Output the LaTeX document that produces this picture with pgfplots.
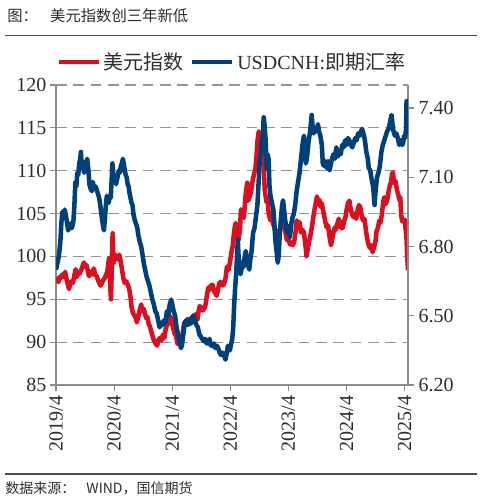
\documentclass[border=0pt]{standalone}
\usepackage{fontspec}
\setmainfont{Liberation Serif}
\newfontfamily\cjk{Noto Sans CJK SC}
\usepackage{pgfplots}
\pgfplotsset{compat=1.18}
\definecolor{dxyred}{RGB}{218,16,32}
\definecolor{cnhblue}{RGB}{0,64,122}
\definecolor{axgray}{RGB}{140,140,140}
\definecolor{gridgray}{RGB}{150,150,150}
\definecolor{labelgray}{RGB}{45,45,45}
\begin{document}
\begin{tikzpicture}
\useasboundingbox (0pt,0pt) rectangle (361.5pt,-376.5pt);
\node[anchor=west, inner sep=0pt, text=labelgray] at (5.25pt,-11.5pt) {\cjk\fontsize{11.5}{13}\selectfont 图：\hspace{0.8em}美元指数创三年新低};
\draw[line width=0.9pt, black!70] (3.75pt,-26.6pt) -- (357.75pt,-26.6pt);
\draw[line width=0.9pt, black!70] (3.75pt,-355.5pt) -- (357.75pt,-355.5pt);
\node[anchor=west, inner sep=0pt, text=labelgray] at (3.75pt,-366.5pt) {\cjk\fontsize{10.5}{12}\selectfont 数据来源：\hspace{0.8em}WIND，国信期货};

\begin{axis}[
  at={(42pt,-288.75pt)}, anchor=south west,
  scale only axis, width=264pt, height=225pt,
  xmin=0, xmax=72.7, ymin=85, ymax=120,
  axis x line*=bottom, axis y line*=left,
  axis line style={axgray, line width=0.9pt},
  xtick={0,12,24,36,48,60,72},
  xticklabels={2019/4,2020/4,2021/4,2022/4,2023/4,2024/4,2025/4},
  xticklabel style={rotate=90, anchor=east, font=\fontsize{15}{15}\selectfont, text=labelgray},
  ytick={85,90,...,120},
  yticklabel style={font=\fontsize{15}{15}\selectfont, text=labelgray, inner sep=2.5pt},
  tick align=outside, major tick length=4.5pt,
  tick style={axgray, line width=0.9pt},
  ymajorgrids, grid style={gridgray, line width=0.9pt, dash pattern=on 8pt off 5pt},
  /pgf/number format/assume math mode=true,
]
\addplot[dxyred, line width=3.4pt, line join=round] coordinates {
(0,96.9)(0.25,97.4)(0.5,97.0)(0.75,97.6)(1.0,97.5)(1.3,97.9)(1.6,97.6)(1.9,98.2)(2.2,97.3)(2.5,96.6)(2.7,96.2)(2.9,96.8)(3.2,97.1)(3.5,96.9)(3.8,97.8)(4.06,98.5)(4.3,97.6)(4.6,98.2)(4.9,98.0)(5.2,98.4)(5.5,98.9)(5.77,99.3)(6.0,98.8)(6.3,99.0)(6.5,98.5)(6.8,97.7)(7.1,97.9)(7.4,98.3)(7.6,97.9)(7.8,98.6)(8.1,97.8)(8.4,97.7)(8.7,97.2)(9.0,96.8)(9.2,96.6)(9.5,96.9)(9.8,97.3)(10.0,97.4)(10.3,97.8)(10.6,98.2)(10.8,99.1)(10.95,99.8)(11.1,98.1)(11.25,96.0)(11.35,95.0)(11.5,98.0)(11.6,101.5)(11.7,102.7)(11.85,99.2)(12.0,99.5)(12.3,100.2)(12.6,99.8)(12.9,99.6)(13.1,100.2)(13.3,99.6)(13.6,98.6)(13.9,97.5)(14.2,96.9)(14.5,97.1)(14.8,96.7)(15.1,96.3)(15.4,95.2)(15.6,94.1)(15.9,93.4)(16.2,93.1)(16.5,92.8)(16.7,92.3)(17.0,93.0)(17.3,93.8)(17.6,94.4)(17.8,93.6)(18.1,93.9)(18.4,93.3)(18.6,92.8)(18.9,92.9)(19.1,92.2)(19.4,91.8)(19.7,91.2)(20.0,90.6)(20.3,90.1)(20.6,89.8)(20.9,89.6)(21.2,90.3)(21.5,90.5)(21.8,90.2)(22.1,90.9)(22.4,90.5)(22.7,91.7)(23.0,92.0)(23.3,92.7)(23.6,93.0)(23.9,92.4)(24.2,91.6)(24.5,91.0)(24.8,90.7)(25.1,89.8)(25.4,90.0)(25.7,89.9)(26.0,90.4)(26.2,91.2)(26.5,92.3)(26.8,92.0)(27.1,92.7)(27.4,92.4)(27.7,92.1)(28.0,92.4)(28.3,93.1)(28.6,92.8)(28.9,93.3)(29.2,92.6)(29.5,93.8)(29.7,94.2)(30.0,94.0)(30.3,93.7)(30.6,93.9)(30.9,94.4)(31.2,95.6)(31.5,96.4)(31.7,96.1)(32.0,96.6)(32.3,96.7)(32.6,96.0)(32.9,95.7)(33.2,95.4)(33.5,96.3)(33.8,97.0)(34.1,97.0)(34.4,96.6)(34.7,96.8)(35.0,97.4)(35.3,98.8)(35.6,98.4)(35.9,99.2)(36.2,100.4)(36.5,101.2)(36.8,103.0)(37.1,103.9)(37.4,102.8)(37.7,101.9)(38.0,103.2)(38.2,105.5)(38.5,104.8)(38.8,104.5)(39.1,106.8)(39.3,107.8)(39.5,108.6)(39.7,106.5)(40.0,107.0)(40.3,107.6)(40.6,108.8)(40.9,109.6)(41.2,110.3)(41.4,111.6)(41.6,113.4)(41.8,114.3)(41.9,114.6)(42.1,112.5)(42.3,112.2)(42.5,112.9)(42.7,111.6)(42.9,110.6)(43.1,107.8)(43.3,107.0)(43.5,106.3)(43.7,106.8)(43.9,105.2)(44.1,104.6)(44.3,104.2)(44.5,105.0)(44.8,103.9)(45.1,103.4)(45.4,102.6)(45.6,103.0)(45.8,102.1)(46.0,101.6)(46.2,102.7)(46.5,104.1)(46.7,104.8)(47.0,104.6)(47.2,103.6)(47.5,102.4)(47.7,101.9)(48.0,102.2)(48.3,101.4)(48.6,101.6)(48.9,101.3)(49.2,101.7)(49.5,103.0)(49.7,104.2)(50.0,103.6)(50.3,104.0)(50.6,102.8)(50.9,103.1)(51.2,102.8)(51.5,101.4)(51.75,100.0)(52.0,100.9)(52.3,101.8)(52.6,102.6)(52.9,103.6)(53.2,104.8)(53.4,105.5)(53.7,106.4)(53.9,107.0)(54.1,106.4)(54.4,106.6)(54.6,105.8)(54.9,106.2)(55.1,105.5)(55.3,105.0)(55.6,104.1)(55.9,103.4)(56.2,103.6)(56.5,102.3)(56.8,101.3)(57.0,101.9)(57.3,102.8)(57.6,103.4)(57.8,103.1)(58.1,103.8)(58.4,104.4)(58.6,104.0)(58.9,103.3)(59.2,103.3)(59.5,104.1)(59.8,104.6)(60.0,105.4)(60.3,106.2)(60.6,106.5)(60.8,105.7)(61.1,105.0)(61.4,104.6)(61.7,105.0)(62.0,104.4)(62.3,105.4)(62.6,106.0)(62.9,105.6)(63.1,104.9)(63.4,104.2)(63.7,104.4)(64.0,103.1)(64.2,102.3)(64.5,101.5)(64.8,101.0)(65.1,101.3)(65.4,100.5)(65.7,101.1)(66.0,101.8)(66.2,102.9)(66.5,103.4)(66.8,104.2)(67.0,103.9)(67.3,104.9)(67.6,106.4)(67.8,106.9)(68.1,106.1)(68.4,106.6)(68.7,107.6)(69.0,108.4)(69.2,108.6)(69.4,109.6)(69.6,109.8)(69.8,108.6)(70.1,108.8)(70.4,107.8)(70.7,107.2)(70.9,106.6)(71.1,106.9)(71.3,104.8)(71.5,104.1)(71.8,104.2)(72.0,104.3)(72.2,103.2)(72.35,102.6)(72.5,100.6)(72.6,99.4)(72.7,98.4)
};
\end{axis}

\begin{axis}[
  at={(42pt,-288.75pt)}, anchor=south west,
  scale only axis, width=264pt, height=225pt,
  xmin=0, xmax=72.7, ymin=6.2, ymax=7.5,
  axis x line=none, axis y line*=right,
  axis line style={axgray, line width=0.9pt},
  ytick={6.2,6.5,6.8,7.1,7.4},
  yticklabel style={font=\fontsize{15}{15}\selectfont, text=labelgray,
    /pgf/number format/fixed, /pgf/number format/fixed zerofill, /pgf/number format/precision=2},
  tick align=outside, major tick length=4.5pt,
  tick style={axgray, line width=0.9pt},
  /pgf/number format/assume math mode=true,
  legend style={at={(0.5,1.077)}, anchor=center, draw=none, fill=none,
    font=\fontsize{15}{15}\selectfont, text=labelgray, legend columns=2,
    /tikz/every even column/.append style={column sep=3pt}},
  legend image code/.code={\draw[#1, line width=3.4pt] (0pt,0pt) -- (30pt,0pt);},
]
\addlegendimage{dxyred}
\addlegendentry{{\cjk 美元指数}}
\addplot[cnhblue, line width=3.4pt, line join=round] coordinates {
(0.0,6.70)(0.2,6.72)(0.4,6.74)(0.6,6.76)(0.9,6.82)(1.1,6.90)(1.3,6.95)(1.6,6.93)(1.8,6.96)(2.0,6.94)(2.3,6.90)(2.5,6.87)(2.7,6.88)(3.0,6.90)(3.3,6.88)(3.6,6.91)(3.8,6.98)(4.0,7.08)(4.2,7.06)(4.4,7.12)(4.6,7.11)(4.8,7.16)(5.0,7.18)(5.15,7.21)(5.3,7.14)(5.5,7.17)(5.8,7.12)(6.0,7.14)(6.2,7.16)(6.45,7.18)(6.7,7.13)(6.9,7.07)(7.15,7.05)(7.4,7.04)(7.6,7.08)(7.9,7.05)(8.2,7.06)(8.5,7.04)(8.8,7.02)(9.0,7.00)(9.2,6.97)(9.5,6.92)(9.7,6.89)(9.9,6.87)(10.1,6.92)(10.3,6.98)(10.5,7.02)(10.7,7.00)(10.9,6.99)(11.1,7.02)(11.3,7.01)(11.5,7.09)(11.65,7.16)(11.8,7.12)(12.0,7.09)(12.2,7.10)(12.4,7.07)(12.6,7.09)(12.8,7.11)(13.0,7.13)(13.2,7.12)(13.4,7.15)(13.6,7.16)(13.8,7.18)(14.0,7.16)(14.2,7.13)(14.4,7.11)(14.6,7.10)(14.8,7.07)(15.0,7.06)(15.2,7.03)(15.4,7.01)(15.6,6.99)(15.8,6.98)(16.0,6.94)(16.2,6.92)(16.5,6.90)(16.8,6.88)(17.0,6.85)(17.3,6.82)(17.6,6.80)(17.9,6.76)(18.2,6.72)(18.4,6.70)(18.7,6.67)(19.0,6.65)(19.3,6.63)(19.6,6.60)(19.9,6.57)(20.2,6.55)(20.5,6.52)(20.8,6.51)(21.1,6.48)(21.4,6.45)(21.7,6.47)(22.0,6.46)(22.3,6.48)(22.6,6.47)(22.9,6.52)(23.2,6.50)(23.5,6.55)(23.8,6.57)(24.0,6.55)(24.3,6.52)(24.6,6.50)(24.9,6.45)(25.2,6.42)(25.5,6.39)(25.8,6.36)(26.0,6.37)(26.3,6.42)(26.6,6.47)(26.9,6.48)(27.2,6.46)(27.5,6.47)(27.8,6.49)(28.1,6.47)(28.4,6.50)(28.7,6.48)(29.0,6.46)(29.3,6.45)(29.6,6.42)(29.9,6.41)(30.2,6.40)(30.5,6.39)(30.8,6.40)(31.1,6.38)(31.4,6.38)(31.7,6.40)(32.0,6.37)(32.3,6.37)(32.6,6.38)(32.9,6.36)(33.2,6.37)(33.5,6.36)(33.8,6.34)(34.1,6.33)(34.4,6.34)(34.7,6.33)(35.0,6.31)(35.2,6.33)(35.5,6.37)(35.7,6.36)(35.9,6.35)(36.1,6.37)(36.4,6.40)(36.6,6.45)(36.8,6.55)(37.0,6.62)(37.2,6.68)(37.4,6.76)(37.55,6.83)(37.7,6.76)(37.9,6.72)(38.1,6.68)(38.3,6.70)(38.5,6.73)(38.7,6.71)(39.0,6.76)(39.2,6.78)(39.4,6.74)(39.7,6.72)(39.9,6.70)(40.1,6.74)(40.4,6.78)(40.7,6.86)(41.0,6.88)(41.3,6.93)(41.6,6.98)(41.9,7.10)(42.1,7.18)(42.3,7.20)(42.5,7.25)(42.7,7.28)(42.9,7.36)(43.1,7.32)(43.3,7.26)(43.5,7.14)(43.7,7.20)(43.9,7.18)(44.1,7.06)(44.3,7.02)(44.5,7.00)(44.7,6.98)(44.9,6.96)(45.1,6.90)(45.3,6.83)(45.6,6.77)(45.8,6.73)(46.0,6.76)(46.2,6.85)(46.5,6.93)(46.7,6.98)(46.9,7.00)(47.1,6.96)(47.3,6.92)(47.5,6.89)(47.7,6.86)(47.9,6.89)(48.1,6.87)(48.3,6.84)(48.6,6.90)(48.9,6.93)(49.1,6.94)(49.4,6.98)(49.7,7.04)(50.0,7.08)(50.3,7.12)(50.6,7.18)(50.9,7.24)(51.2,7.28)(51.4,7.24)(51.6,7.16)(51.8,7.18)(52.0,7.22)(52.2,7.26)(52.5,7.30)(52.8,7.37)(53.0,7.32)(53.2,7.29)(53.5,7.31)(53.8,7.30)(54.1,7.33)(54.3,7.30)(54.6,7.28)(54.9,7.24)(55.1,7.16)(55.3,7.15)(55.6,7.17)(55.9,7.14)(56.2,7.17)(56.5,7.13)(56.7,7.15)(57.0,7.18)(57.3,7.20)(57.6,7.18)(57.9,7.23)(58.2,7.19)(58.5,7.21)(58.8,7.20)(59.1,7.24)(59.4,7.23)(59.7,7.26)(60.0,7.24)(60.3,7.27)(60.6,7.26)(60.9,7.24)(61.2,7.23)(61.5,7.25)(61.8,7.27)(62.1,7.26)(62.4,7.29)(62.7,7.28)(63.0,7.30)(63.2,7.31)(63.5,7.29)(63.8,7.26)(64.1,7.21)(64.4,7.18)(64.6,7.14)(64.9,7.13)(65.2,7.09)(65.5,7.06)(65.8,6.98)(66.0,7.04)(66.3,7.10)(66.6,7.12)(66.9,7.15)(67.2,7.21)(67.5,7.24)(67.8,7.26)(68.1,7.28)(68.4,7.30)(68.7,7.31)(69.0,7.34)(69.3,7.37)(69.5,7.33)(69.7,7.30)(70.0,7.28)(70.3,7.29)(70.6,7.27)(70.9,7.24)(71.2,7.26)(71.5,7.24)(71.7,7.25)(71.9,7.28)(72.1,7.27)(72.3,7.31)(72.4,7.43)(72.5,7.35)(72.6,7.31)(72.7,7.30)
};
\addlegendentry{USDCNH:{\cjk 即期汇率}}
\end{axis}
\end{tikzpicture}
\end{document}
